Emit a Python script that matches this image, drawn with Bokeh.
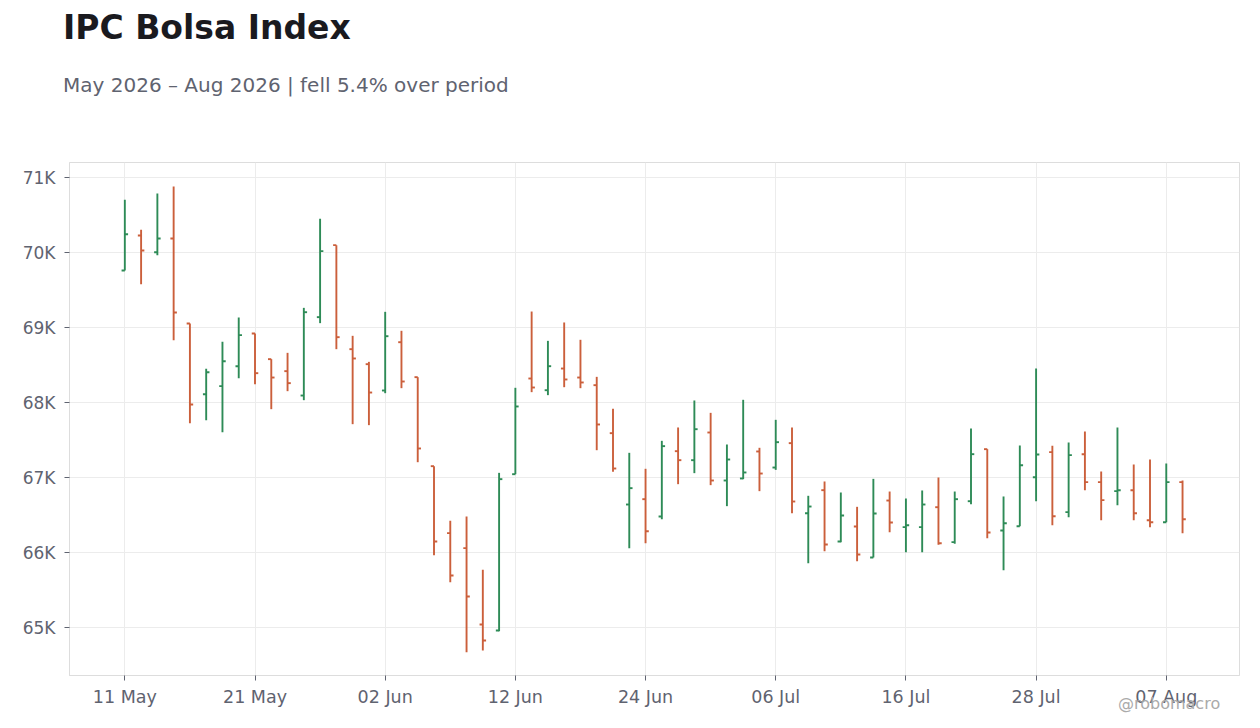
import pandas as pd
from bokeh.embed import file_html
from bokeh.layouts import column
from bokeh.models import ColumnDataSource, Div, FixedTicker, Range1d
from bokeh.plotting import figure
from bokeh.resources import INLINE

# daily OHLC, business days from 11 May 2026
dates = pd.bdate_range("2026-05-11", periods=66)

opens = [69760, 70227, 70004, 70187, 69053, 68111, 68218, 68484, 68920, 68578,
         68418, 68093, 69138, 70098, 68711, 68511, 68160, 68804, 68338, 67151,
         66258, 66058, 65040, 64960, 67044, 68320, 68164, 68453, 68333, 68231,
         67591, 66640, 66711, 66480, 67351, 67231, 67600, 66960, 66987, 67347,
         67133, 67458, 66524, 66831, 66147, 66347, 65933, 66693, 66338, 66338,
         66604, 66138, 66684, 67378, 66293, 66351, 67004, 67338, 66538, 67311,
         66938, 66818, 66831, 66431, 66404, 66938]
highs = [70703, 70302, 70787, 70880, 69053, 68449, 68809, 69133, 68920, 68578,
         68662, 69262, 70449, 70098, 68889, 68542, 69209, 68956, 68338, 67151,
         66422, 66480, 65769, 67062, 68196, 69213, 68822, 69067, 68836, 68342,
         67916, 67329, 67116, 67489, 67667, 68027, 67862, 67440, 68036, 67396,
         67769, 67667, 66756, 66947, 66800, 66609, 66982, 66813, 66720, 66827,
         67000, 66813, 67653, 67378, 66747, 67427, 68453, 67422, 67467, 67613,
         67080, 67667, 67173, 67240, 67187, 66960]
lows = [69760, 69578, 69964, 68831, 67724, 67764, 67604, 68324, 68244, 67911,
        68151, 68031, 69058, 68711, 67711, 67698, 68124, 68191, 67204, 65964,
        65604, 64671, 64693, 64951, 67044, 68138, 68098, 68204, 68191, 67364,
        67076, 66058, 66124, 66444, 66911, 67058, 66898, 66618, 66978, 66818,
        67102, 66524, 65858, 66018, 66138, 65884, 65933, 66271, 66004, 66004,
        66102, 66116, 66644, 66191, 65764, 66351, 66684, 66364, 66471, 66831,
        66431, 66631, 66431, 66338, 66404, 66258]
closes = [70244, 70027, 70187, 69200, 67973, 68404, 68551, 68898, 68391, 68333,
          68258, 69204, 70018, 68871, 68587, 68133, 68884, 68280, 67387, 66147,
          65693, 65413, 64827, 66978, 67947, 68200, 68484, 68307, 68267, 67707,
          67120, 66858, 66284, 67418, 67231, 67644, 66960, 67240, 67067, 67053,
          67471, 66680, 66613, 66107, 66493, 65973, 66520, 66400, 66364, 66640,
          66124, 66711, 67311, 66267, 66391, 67164, 67307, 66484, 67298, 66938,
          66698, 66831, 66524, 66404, 66938, 66444]

x_ticks = [0, 8, 16, 24, 32, 40, 48, 56, 64]
y_ticks = [65000, 66000, 67000, 68000, 69000, 70000, 71000]

title = "IPC Bolsa Index"
subtitle = "May 2026 \u2013 Aug 2026 | fell 5.4% over period"
credit = "@robomacro"

UP = "#2e8b57"
DOWN = "#cb5f3b"
GREY = "#5f6370"
FONT = "'DejaVu Sans', sans-serif"

idx = list(range(len(dates)))
colors = [UP if c >= o else DOWN for o, c in zip(opens, closes)]
src = ColumnDataSource(dict(
    x=idx, xl=[i - 0.2 for i in idx], xr=[i + 0.2 for i in idx],
    o=opens, h=highs, l=lows, c=closes, color=colors,
))

header = Div(
    text=('<div style="font-family:%s;font-weight:bold;font-size:33px;'
          'line-height:38px;color:#1a1a1f;padding:9px 0 0 63px;white-space:nowrap">%s</div>'
          '<div style="font-family:%s;font-size:20px;line-height:24px;color:%s;'
          'padding:26px 0 0 63px;white-space:nowrap">%s</div>')
         % (FONT, title, FONT, GREY, subtitle),
    width=1244, height=142, margin=0)

p = figure(width=1244, height=570, title=None, output_backend="svg",
           toolbar_location=None, x_range=Range1d(-3.4, 68.5),
           y_range=Range1d(64360, 71200),
           min_border_left=69, min_border_right=5,
           min_border_top=20, min_border_bottom=37, margin=0)

p.segment("x", "l", "x", "h", source=src, color="color", line_width=1.9)
p.segment("xl", "o", "x", "o", source=src, color="color", line_width=1.9)
p.segment("x", "c", "xr", "c", source=src, color="color", line_width=1.9)

p.xaxis.ticker = FixedTicker(ticks=x_ticks)
p.xaxis.major_label_overrides = {i: dates[i].strftime("%d %b") for i in x_ticks}
p.yaxis.ticker = FixedTicker(ticks=y_ticks)
p.yaxis.major_label_overrides = {v: "%dK" % (v // 1000) for v in y_ticks}

for ax in (p.xaxis, p.yaxis):
    ax.axis_line_color = "#dddddd"
    ax.major_tick_line_color = GREY
    ax.major_tick_in = 0
    ax.major_tick_out = 5
    ax.minor_tick_line_color = None
    ax.major_label_text_font = "DejaVu Sans"
    ax.major_label_text_font_size = "17px"
    ax.major_label_text_color = GREY
p.xaxis.major_label_text_font_size = "17.5px"
p.yaxis.major_label_standoff = 9
p.xaxis.major_label_standoff = 6

p.grid.grid_line_color = "#ececec"
p.outline_line_color = "#dddddd"
p.background_fill_color = "white"
p.border_fill_color = None

# credit sits over the bottom of the plot, next to the last date label
note = Div(
    text='<span style="font-family:%s;font-size:16px;line-height:18px;color:#aaaaaa;'
         'white-space:nowrap">%s</span>' % (FONT, credit),
    width=124, height=18, margin=(-17, 0, 0, 1118))

layout = column(header, p, note, spacing=0)

open("out.html", "w").write(file_html(layout, INLINE))
